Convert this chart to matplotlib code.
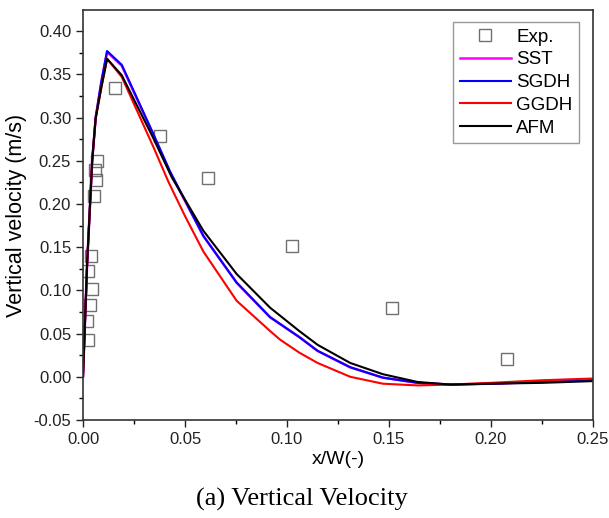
"""Vertical velocity profile: experiment vs. turbulence models"""

from matplotlib import pyplot as plt
from matplotlib.ticker import MultipleLocator

# experimental data
exp_x = [0.0025, 0.0020, 0.0034, 0.0043, 0.0025, 0.0038, 0.0054, 0.0064,
         0.0059, 0.0067, 0.0157, 0.0377, 0.0613, 0.1025, 0.1515, 0.2080]
exp_y = [0.043, 0.064, 0.083, 0.102, 0.122, 0.140, 0.209, 0.228,
         0.239, 0.250, 0.334, 0.279, 0.230, 0.151, 0.080, 0.021]

# model profiles
sst_x = [0.0, 0.002, 0.0045, 0.0062, 0.009, 0.0118, 0.019, 0.0345, 0.0426,
         0.059, 0.0753, 0.0917, 0.106, 0.115, 0.131, 0.147, 0.164, 0.18,
         0.2, 0.225, 0.25]
sst = [0.0, 0.13, 0.25, 0.300, 0.341, 0.376, 0.360, 0.280, 0.237, 0.163,
       0.109, 0.069, 0.046, 0.030, 0.011, -0.001, -0.007, -0.009, -0.008,
       -0.006, -0.004]
sgdh_x = [0.0, 0.002, 0.0045, 0.0062, 0.009, 0.0118, 0.019, 0.0345, 0.0426,
          0.059, 0.0753, 0.0917, 0.106, 0.115, 0.131, 0.147, 0.164, 0.18,
          0.2, 0.225, 0.25]
sgdh = [0.0, 0.13, 0.25, 0.300, 0.342, 0.377, 0.361, 0.281, 0.238, 0.163,
        0.109, 0.069, 0.046, 0.030, 0.011, -0.001, -0.007, -0.009, -0.008,
        -0.006, -0.004]
ggdh_x = [0.0, 0.002, 0.0045, 0.0062, 0.009, 0.0118, 0.019, 0.0345, 0.042,
          0.05, 0.059, 0.0753, 0.0917, 0.0966, 0.106, 0.115, 0.131, 0.147,
          0.164, 0.18, 0.2, 0.225, 0.25]
ggdh = [0.0, 0.13, 0.25, 0.299, 0.335, 0.368, 0.347, 0.266, 0.225, 0.186,
        0.145, 0.088, 0.053, 0.043, 0.028, 0.016, 0.000, -0.008, -0.010,
        -0.009, -0.007, -0.004, -0.002]
afm_x = [0.0, 0.002, 0.0045, 0.0062, 0.009, 0.0118, 0.019, 0.0345, 0.0435,
         0.059, 0.0753, 0.0917, 0.106, 0.115, 0.131, 0.147, 0.164, 0.18,
         0.2, 0.225, 0.25]
afm = [0.0, 0.13, 0.25, 0.299, 0.335, 0.368, 0.349, 0.276, 0.231, 0.169,
       0.119, 0.080, 0.053, 0.037, 0.016, 0.003, -0.006, -0.009, -0.008,
       -0.007, -0.005]

x_ticks = [0.00, 0.05, 0.10, 0.15, 0.20, 0.25]
y_ticks = [-0.05, 0.00, 0.05, 0.10, 0.15, 0.20, 0.25, 0.30, 0.35, 0.40]

plt.rcParams['font.family'] = ['Liberation Sans', 'DejaVu Sans']

fig = plt.figure(figsize=(6.09, 5.18), dpi=100)
ax = fig.add_axes([0.1363, 0.1892, 0.8374, 0.7915])

ax.plot(exp_x, exp_y, 's', markersize=8.5, markerfacecolor='none',
        markeredgecolor='#707070', markeredgewidth=1.0, label='Exp.')
ax.plot(sst_x, sst, color='#ff00ff', lw=1.8, label='SST')
ax.plot(sgdh_x, sgdh, color='#0000ff', lw=1.5, label='SGDH')
ax.plot(ggdh_x, ggdh, color='#ff0000', lw=1.5, label='GGDH')
ax.plot(afm_x, afm, color='#000000', lw=1.5, label='AFM')

ax.set_xlim(0, 0.25)
ax.set_ylim(-0.05, 0.4245)
ax.set_xticks(x_ticks)
ax.set_yticks(y_ticks)
ax.set_xticklabels([f'{v:.2f}' for v in x_ticks])
ax.set_yticklabels([f'{v:.2f}' for v in y_ticks])
ax.xaxis.set_minor_locator(MultipleLocator(0.025))
ax.yaxis.set_minor_locator(MultipleLocator(0.025))
ax.tick_params(which='major', direction='out', length=5, width=1,
               labelsize=12, colors='#222222', top=False, right=False)
ax.tick_params(which='minor', direction='out', length=3, width=1,
               top=False, right=False)
for s in ax.spines.values():
    s.set_linewidth(1.2)
    s.set_color('#333333')

ax.set_xlabel('x/W(-)', fontsize=14, labelpad=3)
ax.set_ylabel('Vertical velocity (m/s)', fontsize=15.5, labelpad=5)

leg = ax.legend(loc='upper right', bbox_to_anchor=(0.9725, 0.9707),
                borderaxespad=0, fancybox=False, edgecolor='#808080',
                fontsize=13.5, handlelength=2.7, handletextpad=0.3,
                labelspacing=0.3, borderpad=0.35)
leg.get_frame().set_linewidth(1.0)

fig.text(0.495, 0.035, '(a) Vertical Velocity', ha='center', va='center',
         fontsize=19, family='Liberation Serif')

plt.savefig('out.png', dpi=100)
